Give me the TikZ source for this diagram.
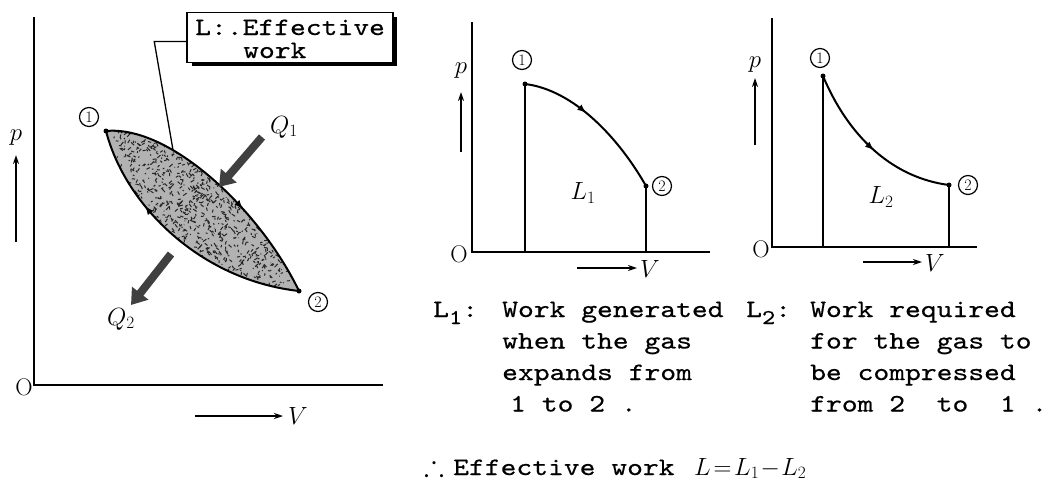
\documentclass[tikz,border=0pt]{standalone}
\usepackage{fontspec}
\usepackage{amssymb}
\newfontfamily\tw{lmmono10-regular.otf}[FakeStretch=1.2,FakeBold=0.5]
\usetikzlibrary{arrows.meta,decorations.markings}
\tikzset{
  axisline/.style={line width=2pt},
  curveline/.style={line width=2pt},
  circnum/.style={circle, draw, line width=1.2pt, inner sep=0pt, minimum size=19pt, font=\fontsize{16}{16}\selectfont},
  mlbl/.style={font=\fontsize{24}{24}\selectfont, inner sep=0pt},
  twline/.style={anchor=base west, inner sep=0pt, font=\fontsize{25.1}{25.1}\selectfont\tw},
  qarrow/.style={line width=8pt, black!75, -{Triangle[width=20pt,length=15pt]}},
  smallarrow/.style={line width=2.2pt, -{Stealth[length=9pt,width=6pt]}},
  midarrow/.style={postaction={decorate}, decoration={markings, mark=at position #1 with {\arrow{Latex[length=9pt,width=7pt]}}}},
  ptdot/.style={fill=black, circle, inner sep=0pt, minimum size=5pt},
  labelbox/.style={draw, line width=1.5pt, minimum width=206pt, minimum height=50pt, inner sep=0pt}
}
\begin{document}
\begin{tikzpicture}[x=1pt,y=-1pt]
\useasboundingbox (0,0) rectangle (1063,483);

% ================= LEFT DIAGRAM =================
\coordinate (LA) at (34,17);
\coordinate (LO) at (34,385);
\coordinate (LX) at (383,385);
\draw[axisline] (LA) -- (LO) -- (LX);
\node[mlbl] (lo) at (24,387) {O};
\node[mlbl] (lp) at (16,138) {$p$};
\coordinate (lpa) at (16,242);
\coordinate (lpb) at (16,155);
\draw[smallarrow] (lpa) -- (lpb);
\coordinate (lva) at (195,416);
\coordinate (lvb) at (283,416);
\draw[smallarrow] (lva) -- (lvb);
\node[mlbl] (lv) at (298,416) {$V$};

\coordinate (P1) at (106,131);
\coordinate (P2) at (299,291);
% shaded lens
\begin{scope}
  \clip (P1) .. controls (170,125) and (260,210) .. (P2) .. controls (200,280) and (125,205) .. (P1) -- cycle;
  \fill[black!30] (100,120) rectangle (305,300);
  \pgfmathsetseed{7}
  \foreach \i in {1,...,2000} {
    \pgfmathsetmacro{\xx}{100+205*rnd}
    \pgfmathsetmacro{\yy}{120+180*rnd}
    \pgfmathsetmacro{\dx}{7*rnd-3.5}
    \pgfmathsetmacro{\dy}{7*rnd-3.5}
    \draw[line width=1pt, black!85] (\xx,\yy) -- ++(\dx,\dy);
  }
\end{scope}
\draw[curveline, midarrow=0.62] (P1) .. controls (170,125) and (260,210) .. (P2);
\draw[curveline, midarrow=0.68] (P2) .. controls (200,280) and (125,205) .. (P1);
\node[ptdot] (p1dot) at (P1) {};
\node[ptdot] (p2dot) at (P2) {};
\node[circnum] (l1) at (89,117) {1};
\node[circnum] (l2) at (318,302) {2};

\coordinate (q1a) at (262,137);
\coordinate (q1b) at (219,187);
\draw[qarrow] (q1a) -- (q1b);
\node[mlbl] (q1) at (284,127) {$Q_1$};
\coordinate (q2a) at (171,254);
\coordinate (q2b) at (131,305);
\draw[qarrow] (q2a) -- (q2b);
\node[mlbl] (q2) at (121,319) {$Q_2$};

\node[labelbox] (box) at (290,37.5) {};
\node[twline] (boxa) at (195,35) {L:.Effective};
\node[twline] (boxb) at (243,58) {work};
\draw[line width=3.5pt] (192,64) -- (395.5,64) -- (395.5,17);
\coordinate (lw) at (173,150);
\draw[line width=1.3pt] ([yshift=-4pt]box.west) -- ++(-32,0) -- (lw);

% ================= MIDDLE DIAGRAM =================
\coordinate (MA) at (472,22);
\coordinate (MO) at (472,252);
\coordinate (MX) at (710,252);
\draw[axisline] (MA) -- (MO) -- (MX);
\node[mlbl] (mo) at (459,254) {O};
\node[mlbl] (mp) at (461,71) {$p$};
\coordinate (mpa) at (461,152);
\coordinate (mpb) at (461,92);
\draw[smallarrow] (mpa) -- (mpb);
\coordinate (mva) at (577,268);
\coordinate (mvb) at (637,268);
\draw[smallarrow] (mva) -- (mvb);
\node[mlbl] (mv) at (650,269) {$V$};
\coordinate (M1) at (525,84);
\coordinate (M2) at (646,186);
\coordinate (M1b) at (525,252);
\coordinate (M2b) at (646,252);
\draw[curveline] (M1) -- (M1b);
\draw[curveline] (M2) -- (M2b);
\draw[curveline, midarrow=0.42] (M1) .. controls (575,90) and (620,140) .. (M2);
\node[ptdot] (m1dot) at (M1) {};
\node[ptdot] (m2dot) at (M2) {};
\node[circnum] (m1) at (522,60) {1};
\node[circnum] (m2) at (662,186) {2};
\node[mlbl] (ml) at (583,193) {$L_1$};

% ================= RIGHT DIAGRAM =================
\coordinate (RA) at (772,18);
\coordinate (RO) at (772,247);
\coordinate (RX) at (977,247);
\draw[axisline] (RA) -- (RO) -- (RX);
\node[mlbl] (ro) at (761,249) {O};
\node[mlbl] (rp) at (755,65) {$p$};
\coordinate (rpa) at (755,145);
\coordinate (rpb) at (755,78);
\draw[smallarrow] (rpa) -- (rpb);
\coordinate (rva) at (863,262);
\coordinate (rvb) at (922,262);
\draw[smallarrow] (rva) -- (rvb);
\node[mlbl] (rv) at (935,263) {$V$};
\coordinate (R1) at (823,76);
\coordinate (R2) at (949,185);
\coordinate (R1b) at (823,247);
\coordinate (R2b) at (949,247);
\draw[curveline] (R1) -- (R1b);
\draw[curveline] (R2) -- (R2b);
\draw[curveline, midarrow=0.52] (R1) .. controls (850,140) and (895,178) .. (R2);
\node[ptdot] (r1dot) at (R1) {};
\node[ptdot] (r2dot) at (R2) {};
\node[circnum] (r1) at (820,58) {1};
\node[circnum] (r2) at (968,185) {2};
\node[mlbl] (rl) at (881,197) {$L_2$};

% ================= CAPTIONS =================
\node[twline] (c1h) at (433,317) {L\raisebox{-7pt}{\fontsize{21}{21}\selectfont 1}:};
\node[twline] (c1a) at (502,317) {Work generated};
\node[twline] (c1b) at (502,348.5) {when the gas};
\node[twline] (c1c) at (502,380) {expands from};
\node[twline] (c1d) at (510,411.5) {1 to 2 .};

\node[twline] (c2h) at (746,317) {L\raisebox{-7pt}{\fontsize{21}{21}\selectfont 2}:};
\node[twline] (c2a) at (810,317) {Work required};
\node[twline] (c2b) at (810,348.5) {for the gas to};
\node[twline] (c2c) at (810,380) {be compressed};
\node[twline] (c2d) at (810,411.5) {from 2\ \ to\ \ 1 .};

\node[anchor=base west, inner sep=0pt, font=\fontsize{30}{30}\selectfont] (th) at (424,475) {$\therefore$};
\node[twline] (eff) at (453,475) {Effective work};
\node[anchor=base west, inner sep=0pt, font=\fontsize{24}{24}\selectfont] (eq) at (694,475) {$L\!=\!L_1\!-\!L_2$};
\end{tikzpicture}
\end{document}
